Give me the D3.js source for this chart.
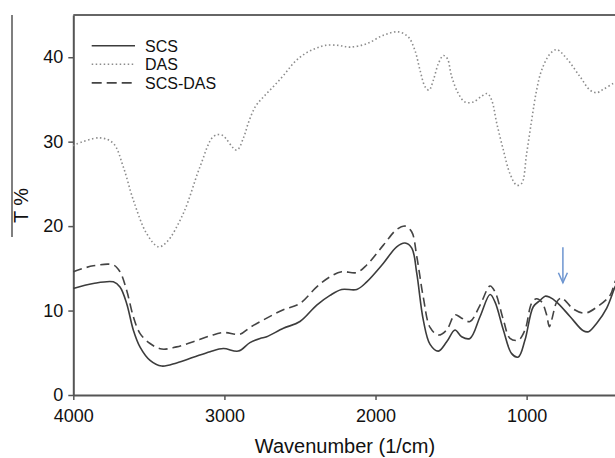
<!DOCTYPE html>
<html><head><meta charset="utf-8">
<script src="https://cdn.jsdelivr.net/npm/d3@7"></script>
<style>body{margin:0;background:#fff}svg{display:block;font-family:"Liberation Sans",Arial,sans-serif}</style>
</head><body><svg id="c" width="615" height="458"></svg>
<script>
const xTicks = [4000, 3000, 2000, 1000];
const yTicks = [0, 10, 20, 30, 40];
const seriesNames = ["SCS", "DAS", "SCS-DAS"];
const scsWave = [4000,3868,3735,3691,3647,3603,3559,3492,3415,3316,3206,3095,3007,2908,2831,2764,2720,2610,2500,2389,2301,2224,2124,2058,1948,1860,1805,1760,1727,1684,1639,1584,1529,1474,1430,1375,1308,1242,1209,1154,1099,1055,1011,956,911,878,850,801,713,625,590,536,470,415,400];
const scsVal  = [12.6,13.2,13.4,12.8,10.85,7.7,5.7,4.1,3.43,3.8,4.46,5.13,5.5,5.2,6.2,6.7,6.9,7.9,8.7,10.65,11.8,12.5,12.5,13.4,15.6,17.55,18.0,17.4,14.4,8.9,6.0,5.2,6.3,7.7,6.9,6.7,9.3,11.9,11.0,7.7,4.9,4.5,6.5,10.45,11.2,11.7,11.6,11.0,9.3,7.6,7.5,8.5,10.3,12.8,13.3];
const dasWave = [4000,3982,3823,3735,3669,3603,3514,3437,3382,3272,3162,3073,3018,2919,2873,2840,2795,2739,2672,2604,2537,2469,2402,2334,2245,2169,2058,1948,1849,1783,1739,1706,1672,1646,1617,1584,1551,1525,1496,1452,1408,1353,1297,1260,1231,1198,1154,1110,1066,1033,1000,967,934,900,845,801,735,647,580,536,492,426,400];
const dasVal  = [29.5,29.7,30.45,29.8,27.0,23.1,19.1,17.55,18.1,21.5,27.0,30.6,30.8,29.0,30.5,32.3,34.15,35.35,36.6,37.95,39.4,40.4,41.0,41.4,41.4,41.2,41.6,42.6,43.0,42.4,40.8,38.5,36.5,36.1,37.3,39.25,40.2,39.85,37.7,35.7,34.7,34.7,35.4,35.7,34.9,32.2,29.0,26.2,24.85,25.05,28.6,32.5,36.1,38.5,40.4,40.9,39.85,37.7,36.1,35.8,36.2,36.9,37.1];
const mixWave = [4000,3868,3735,3691,3647,3603,3559,3492,3415,3316,3206,3095,3007,2897,2831,2720,2610,2500,2389,2301,2224,2124,2058,1948,1860,1805,1760,1727,1684,1639,1584,1529,1474,1430,1375,1308,1242,1209,1154,1110,1055,1011,967,934,900,868,850,834,801,770,746,692,614,536,448,415,400];
const mixVal  = [14.6,15.3,15.4,14.6,12.4,9.3,7.3,6.1,5.44,5.7,6.3,7.0,7.4,7.2,8.0,9.1,10.1,10.85,12.8,14.0,14.6,14.5,15.4,17.75,19.6,20.0,19.3,16.4,11.6,8.0,7.1,7.7,9.5,9.1,8.7,10.65,12.9,12.2,8.9,6.7,6.5,7.7,10.85,11.4,11.0,9.5,8.1,8.9,11.0,11.5,11.2,10.2,9.7,10.4,11.8,13.4,13.8];
const arrowWave = 760, arrowTop = 17.5, arrowBottom = 13.3;

const svg = d3.select("#c");
const x = d3.scaleLinear().domain([4000, 400]).range([73.3, 617.3]);
const y = d3.scaleLinear().domain([0, 45]).range([395, 15]);

// frame pieces
svg.append("line").attr("x1", 73.3).attr("x2", 617).attr("y1", 15).attr("y2", 15)
  .attr("stroke", "#666").attr("stroke-width", 2);
svg.append("line").attr("x1", 12).attr("x2", 12).attr("y1", 15).attr("y2", 237)
  .attr("stroke", "#555").attr("stroke-width", 1.5);

const xAxis = svg.append("g").attr("transform", "translate(0,395)")
  .call(d3.axisBottom(x).tickValues(xTicks).tickFormat(d3.format("d")).tickSize(5).tickPadding(9).tickSizeOuter(0));
const yAxis = svg.append("g").attr("transform", "translate(73.3,0)")
  .call(d3.axisLeft(y).tickValues(yTicks).tickSize(5).tickPadding(5).tickSizeOuter(0));
[xAxis, yAxis].forEach(g => {
  g.select(".domain").attr("stroke", "#555").attr("stroke-width", 2);
  g.selectAll(".tick line").attr("stroke", "#555").attr("stroke-width", 1.5);
  g.selectAll("text").attr("font-size", 18).attr("fill", "#111").attr("font-family", "Liberation Sans, Arial, sans-serif");
});

svg.append("text").attr("x", 345).attr("y", 453).attr("text-anchor", "middle")
  .attr("font-size", 20).attr("fill", "#111").text("Wavenumber (1/cm)");
svg.append("text").attr("transform", "translate(27.5,205.5) rotate(-90)").attr("text-anchor", "middle")
  .attr("font-size", 20).attr("fill", "#111").text("T %");

const line = d3.line().x(d => x(d[0])).y(d => y(d[1])).curve(d3.curveCatmullRom.alpha(0.5));
const zip = (a, b) => a.map((w, i) => [w, b[i]]);
const styles = [
  {stroke: "#3c3c3c", dash: null, w: 1.6},
  {stroke: "#8c8c8c", dash: "1.5,2.5", w: 1.6},
  {stroke: "#444", dash: "9,5", w: 1.6}
];
const data = [zip(scsWave, scsVal), zip(dasWave, dasVal), zip(mixWave, mixVal)];
data.forEach((d, i) => {
  svg.append("path").attr("d", line(d)).attr("fill", "none")
    .attr("stroke", styles[i].stroke).attr("stroke-width", styles[i].w)
    .attr("stroke-dasharray", styles[i].dash);
});

// legend
const legY = [45.7, 64.3, 82.9];
seriesNames.forEach((n, i) => {
  svg.append("line").attr("x1", 91.7).attr("x2", 135).attr("y1", legY[i]).attr("y2", legY[i])
    .attr("stroke", styles[i].stroke).attr("stroke-width", styles[i].w)
    .attr("stroke-dasharray", i === 2 ? "10,5" : styles[i].dash);
  svg.append("text").attr("x", 145).attr("y", legY[i] + 6).attr("font-size", 16).attr("fill", "#111").text(n);
});

// arrow
const ax = x(arrowWave);
svg.append("line").attr("x1", ax).attr("x2", ax).attr("y1", y(arrowTop)).attr("y2", y(arrowBottom))
  .attr("stroke", "#6d95d0").attr("stroke-width", 1.5);
svg.append("path").attr("d", `M${ax-4.5},${y(arrowBottom)-10}L${ax},${y(arrowBottom)}L${ax+4.5},${y(arrowBottom)-10}`)
  .attr("fill", "none").attr("stroke", "#6d95d0").attr("stroke-width", 1.5);
</script></body></html>
